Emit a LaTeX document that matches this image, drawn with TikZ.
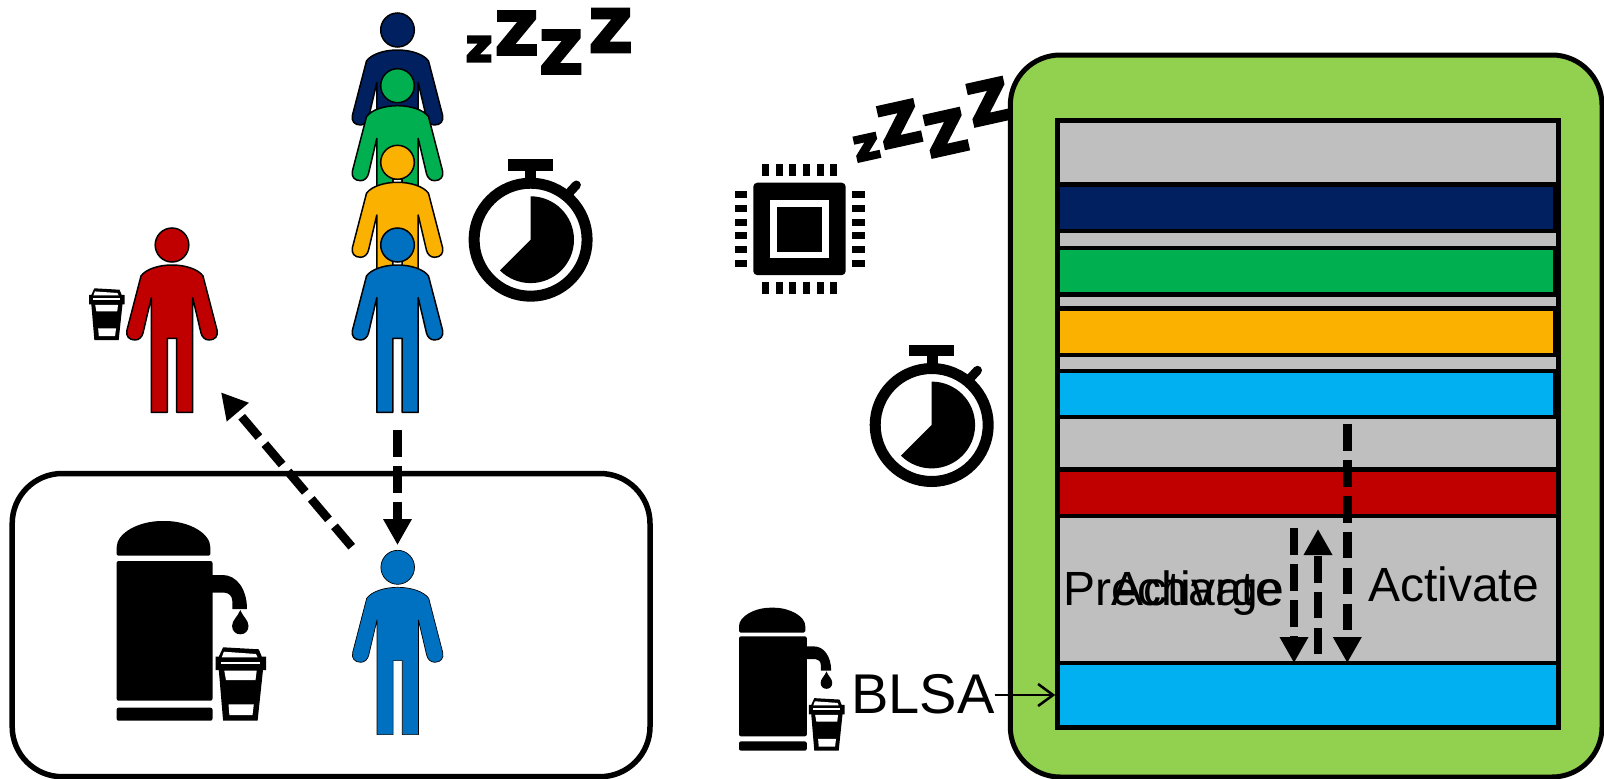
\documentclass[tikz,border=0pt]{standalone}
\usepackage{fontspec}
\setmainfont{Liberation Sans}
\newfontfamily\snorefont[FakeBold=6]{DejaVu Sans Bold}
\usepackage{tikz}
\usetikzlibrary{arrows.meta,positioning,calc}
\definecolor{cellnavy}{HTML}{002060}
\definecolor{cellgreen}{HTML}{00B050}
\definecolor{cellyellow}{HTML}{FBB100}
\definecolor{cellblue}{HTML}{0070C0}
\definecolor{cellcyan}{HTML}{00B0F0}
\definecolor{cellred}{HTML}{C00000}
\definecolor{cellgray}{HTML}{BFBFBF}
\definecolor{chipgreen}{HTML}{92D050}

\tikzset{
  personline/.style={line width=1.5pt},
  person/.pic={
    \draw[personline, fill=#1] (0,0) ellipse (16.8 and 17);
    \draw[personline, fill=#1, line join=round]
      (0,20) .. controls (13,20) and (26,24) .. (31,31) -- (45,85)
      .. controls (46.5,91) and (43,95) .. (37,95) .. controls (33,95) and (30,92) .. (29,88)
      -- (20.7,52.7) -- (20.7,167.3) -- (4.6,167.3) -- (4.6,93.3) -- (-4.6,93.3) -- (-4.6,167.3) -- (-20.7,167.3) -- (-20.7,52.7)
      -- (-29,88) .. controls (-30,92) and (-33,95) .. (-37,95) .. controls (-43,95) and (-46.5,91) .. (-45,85)
      -- (-31,31) .. controls (-26,24) and (-13,20) .. (0,20) -- cycle;
  },
  cup/.pic={
    \fill (7.6,0) -- (43.3,2) -- (46.3,9.4) -- (50.5,9.4) -- (50.5,22.7) -- (47.5,22.7) -- (42.1,73.4) -- (7.6,73.4) -- (3.3,22.7) -- (0,22.7) -- (0,9.4) -- (3.3,9.4) -- cycle;
    \fill[white] (8.4,4.4) -- (40.4,6.7) -- (42.1,10) -- (6.3,10) -- cycle;
    \fill[white] (5.5,14.4) -- (44.5,14.4) -- (44.5,17) -- (5.5,17) -- cycle;
    \fill[white] (8.8,23.4) -- (41.2,23.4) -- (40,32.7) -- (10.5,32.7) -- cycle;
    \fill[white] (13,57) -- (38.3,57) -- (37,67.7) -- (13.9,67.7) -- cycle;
  },
  urn/.pic={
    \fill[rounded corners=1.5pt] (0,34.7) -- (0,28) .. controls (0,12) and (22,0) .. (47,0) .. controls (72,0) and (93.8,12) .. (93.8,28) -- (93.8,34.7) -- cycle;
    \fill[rounded corners=2pt] (0,40) rectangle (95.9,179.7);
    \fill[rounded corners=2pt] (0,186.7) rectangle (95.9,199.7);
    \fill (95,54) -- (106,54) .. controls (120,54) and (130.4,68) .. (130.4,88) -- (115.7,88) -- (115.7,80) .. controls (115.7,75) and (112,71.7) .. (108,71.7) -- (95,71.7) -- cycle;
    \fill (123.7,89) .. controls (121,96) and (115.5,99) .. (115.5,105) .. controls (115.5,110) and (119,113.3) .. (123.7,113.3)
      .. controls (128.4,113.3) and (131.9,110) .. (131.9,105) .. controls (131.9,99) and (126.4,96) .. (123.7,89) -- cycle;
    \pic[transform shape] at (98.9,126.3) {cup};
  },
  stopwatch/.pic={
    \draw[line width=11pt] (0,0) circle (56.5);
    \fill (-22.7,-80.4) rectangle (21.9,-69);
    \fill (-5.2,-70) rectangle (5.8,-58);
    \draw[line width=9pt, line cap=round] (38.4,-46.7) -- (45.8,-54.7);
    \fill (0,0) -- (-90:43.4) arc[start angle=-90, end angle=135, radius=43.4] -- cycle;
  },
  chip/.pic={
    \fill[rounded corners=4pt] (0,0) rectangle (92.4,92.4);
    \fill[white] (16.7,17.3) rectangle (75.7,75.6);
    \fill (24,24) rectangle (68.7,68.9);
    \foreach \i in {0,...,5} {
      \fill ({8.7+13.67*\i},-18.7) rectangle ++(7,12.3);
      \fill ({8.7+13.67*\i},99) rectangle ++(7,12.3);
      \fill (-18.6,{8.6+13.67*\i}) rectangle ++(12,7);
      \fill (99,{8.6+13.67*\i}) rectangle ++(12.4,7);
    }
  },
  snore/.pic={
    \node[snoreletter, font=\snorefont\fontsize{45}{45}\selectfont] (-a) at (0,0) {z};
    \node[snoreletter, font=\snorefont\fontsize{58}{58}\selectfont] (-b) at (37.7,-16) {Z};
    \node[snoreletter, font=\snorefont\fontsize{58}{58}\selectfont] (-c) at (82.2,3) {Z};
    \node[snoreletter, font=\snorefont\fontsize{58}{58}\selectfont] (-d) at (131.7,-18.5) {Z};
  },
}

\begin{document}
\begin{tikzpicture}[
  x=1pt, y=-1pt,
  snoreletter/.style={inner sep=0pt, transform shape},
  pantry/.style={rectangle, draw, line width=5.5pt, rounded corners=50pt, outer sep=0pt, minimum width=637.8pt, minimum height=303.2pt, anchor=north west},
  module/.style={rectangle, draw, line width=5pt, fill=chipgreen, rounded corners=50pt, outer sep=0pt, minimum width=591.7pt, minimum height=722pt, anchor=north west},
  bank/.style={rectangle, draw, line width=5pt, fill=cellgray, outer sep=0pt, minimum width=500.2pt, minimum height=607pt, anchor=north west},
  row/.style={rectangle, draw, line width=4.5pt, outer sep=0pt, minimum width=497pt, anchor=north west},
  widerow/.style={row, minimum width=500.2pt},
  cmd/.style={inner sep=0pt, anchor=base west, font=\fontsize{48}{50}\selectfont},
  dasharrow/.style={-{Triangle[length=26pt, width=27pt]}, line width=8.7pt, dash pattern=on 26.7pt off 9.2pt},
  thinarrow/.style={-{Straight Barb[length=15pt, width=22pt]}, line width=2.5pt, shorten >=2.6pt},
]
  \useasboundingbox (0,0) rectangle (1604,779);

  % Queue of people
  \pic at (397.5,30) {person=cellnavy};
  \pic at (397.5,85.7) {person=cellgreen};
  \pic at (397.5,162.3) {person=cellyellow};
  \pic at (397.5,245) {person=cellblue};
  \pic (zzleft) at (479,49) {snore};
  \pic at (530.6,239.7) {stopwatch};

  % Person served
  \pic at (172,245) {person=cellred};
  \pic[scale=0.705] at (89,288.3) {cup};

  % Coffee corner
  \node[pantry] (corner) at (12.2,473.5) {};
  \pic at (116.6,521) {urn};
  \pic[personline/.style={line width=0.7pt}] at (397.7,567.3) {person=cellblue};

  \coordinate (queueend) at (397.5,430);
  \coordinate (nexthead) at (397.5,545);
  \coordinate (leaving) at (351.7,546.7);
  \coordinate (served) at (221,392.3);
  \draw[dasharrow] (queueend) -- (nexthead);
  \draw[dasharrow] (leaving) -- (served);

  % Chip side
  \pic at (753.3,182.7) {chip};
  \pic[rotate=12.5, scale=0.98] (zzright) at (866.7,147.3) {snore};
  \pic at (931.7,425) {stopwatch};
  \pic[xscale=0.707, yscale=0.716] at (739,607.7) {urn};

  % Memory bank
  \node[module] (dimm) at (1010.3,55) {};
  \node[bank] (cells) at (1057.8,120) {};
  \node[row, fill=cellnavy, minimum height=46.5pt] (rowa) at (1057.8,184.5) {};
  \node[row, fill=cellgreen, minimum height=46.5pt] (rowb) at (1057.8,248) {};
  \node[row, fill=cellyellow, minimum height=46.3pt] (rowc) at (1057.8,308.7) {};
  \node[row, fill=cellcyan, minimum height=46pt] (rowd) at (1057.8,371) {};
  \node[widerow, fill=cellred, minimum height=46.5pt] (rowe) at (1057.8,469.5) {};
  \node[widerow, fill=cellcyan, minimum height=64pt] (rowf) at (1057.8,663) {};

  % Commands
  \node[cmd] (pre) at (1063,605) {Precharge};
  \node[cmd] (actleft) at (1111,605) {Activate};
  \node[cmd] (actright) at (1368,601) {Activate};
  \node[inner sep=0pt, anchor=base west, font=\fontsize{56}{58}\selectfont] (blsa) at (851,713) {BLSA};

  \coordinate (openstart) at (1347.3,424);
  \coordinate (prestart) at (1294,528.3);
  \coordinate (actstart) at (1318,654.3);
  \coordinate (acttip) at (1318,529);
  \draw[dasharrow] (openstart) -- (openstart |- rowf.north);
  \draw[dasharrow] (prestart) -- (prestart |- rowf.north);
  \draw[dasharrow] (actstart) -- (acttip);
  \draw[thinarrow] (blsa.east |- rowf.west) -- (rowf.west);
\end{tikzpicture}
\end{document}
